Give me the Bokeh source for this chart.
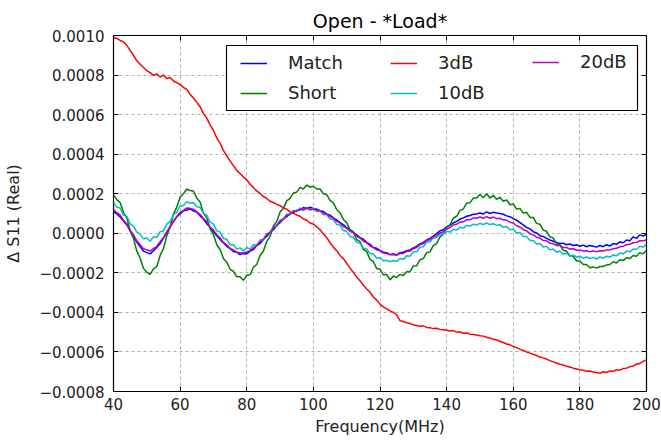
from bokeh.plotting import figure
from bokeh.models import (FixedTicker, CustomJSTickFormatter, LinearAxis, Legend,
                          LegendItem, Range1d, BoxAnnotation)
from bokeh.embed import file_html
from bokeh.resources import INLINE

# ---------------- data (values in units of 1e-6) ----------------
freq_mhz = list(range(40, 201))

match_e6 = [
    110, 98, 82, 62, 42, 12, -18, -45, -68, -90,
    -98, -104, -88, -72, -52, -24, 2, 34, 58, 84,
    98, 114, 118, 124, 112, 108, 88, 72, 48, 30,
    8, -12, -32, -48, -66, -78, -92, -96, -108, -102,
    -104, -90, -82, -62, -52, -30, -16, 4, 18, 40,
    54, 72, 84, 98, 104, 116, 118, 130, 124, 132,
    126, 122, 114, 110, 98, 92, 78, 68, 54, 44,
    28, 18, 4, -8, -22, -30, -46, -56, -72, -76,
    -86, -96, -98, -108, -104, -110, -98, -96, -88, -84,
    -74, -66, -54, -46, -34, -26, -14, -2, 12, 18,
    32, 40, 52, 60, 72, 78, 86, 90, 96, 98,
    102, 98, 108, 100, 106, 102, 100, 96, 88, 84,
    74, 66, 54, 42, 30, 22, 8, 2, -12, -16,
    -26, -34, -40, -46, -52, -50, -58, -54, -62, -58,
    -66, -60, -68, -62, -66, -70, -62, -68, -58, -64,
    -52, -56, -44, -48, -34, -38, -18, -26, -8, -14,
    -4,
]

short_e6 = [
    194, 170, 154, 106, 78, 12, -26, -90, -126, -178,
    -196, -208, -180, -168, -112, -78, -12, 32, 98, 132,
    184, 200, 224, 216, 214, 178, 158, 102, 78, 22,
    -6, -58, -82, -128, -146, -182, -192, -220, -220, -238,
    -212, -210, -172, -158, -112, -90, -42, -16, 38, 60,
    108, 126, 164, 176, 204, 208, 232, 224, 244, 234,
    238, 224, 224, 200, 196, 166, 154, 120, 104, 70,
    54, 18, 8, -32, -42, -82, -92, -132, -142, -178,
    -182, -210, -208, -236, -216, -224, -208, -214, -194, -194,
    -166, -164, -134, -128, -98, -94, -62, -52, -18, -4,
    32, 42, 76, 86, 116, 122, 152, 154, 178, 178,
    196, 180, 200, 178, 192, 172, 182, 162, 168, 144,
    148, 122, 126, 102, 106, 80, 80, 50, 46, 16,
    10, -18, -24, -54, -58, -86, -90, -114, -116, -140,
    -140, -158, -158, -174, -170, -176, -168, -168, -160, -158,
    -144, -150, -134, -138, -124, -128, -112, -116, -98, -104,
    -86,
]

db3_e6 = [
    990, 985, 975, 968, 950, 925, 900, 872, 855, 838,
    822, 812, 798, 806, 790, 800, 782, 788, 770, 762,
    752, 738, 728, 702, 684, 662, 640, 605, 582, 548,
    520, 482, 455, 418, 392, 365, 342, 318, 302, 284,
    270, 248, 232, 214, 202, 186, 176, 162, 156, 146,
    140, 128, 122, 108, 102, 92, 86, 72, 66, 52,
    46, 32, 18, -2, -22, -48, -70, -88, -112, -128,
    -152, -176, -198, -222, -240, -262, -282, -298, -322, -338,
    -358, -372, -382, -392, -400, -412, -442, -446, -452, -456,
    -462, -466, -470, -468, -476, -478, -482, -480, -486, -488,
    -490, -494, -492, -500, -498, -506, -504, -510, -512, -514,
    -518, -520, -526, -530, -536, -540, -546, -552, -560, -564,
    -572, -578, -586, -592, -600, -606, -612, -618, -626, -630,
    -636, -644, -650, -656, -662, -666, -672, -676, -682, -686,
    -690, -692, -698, -696, -702, -704, -708, -700, -704, -696,
    -698, -690, -692, -684, -682, -674, -672, -662, -658, -648,
    -640,
]

db10_e6 = [
    156, 132, 128, 92, 86, 48, 36, 6, -4, -28,
    -24, -40, -18, -22, 8, 12, 46, 60, 94, 106,
    138, 140, 160, 152, 156, 134, 130, 100, 92, 56,
    46, 12, 6, -26, -30, -58, -58, -80, -74, -90,
    -72, -80, -58, -60, -34, -32, -2, 2, 32, 36,
    66, 68, 96, 94, 116, 110, 128, 114, 132, 116,
    126, 110, 116, 94, 96, 72, 70, 44, 42, 14,
    10, -16, -20, -46, -50, -76, -78, -104, -104, -126,
    -124, -140, -136, -144, -138, -142, -128, -132, -114, -116,
    -94, -94, -70, -68, -44, -44, -22, -22, -2, -4,
    10, 6, 20, 16, 30, 26, 40, 36, 46, 42,
    50, 44, 52, 44, 48, 40, 44, 30, 34, 18,
    20, 2, 4, -16, -16, -36, -36, -54, -52, -70,
    -66, -84, -80, -96, -90, -106, -100, -116, -110, -120,
    -116, -126, -120, -128, -122, -130, -120, -126, -116, -120,
    -110, -114, -100, -104, -90, -94, -80, -82, -66, -70,
    -54,
]

db20_e6 = [
    120, 104, 92, 66, 48, 16, -8, -38, -58, -78,
    -84, -90, -78, -66, -42, -22, 8, 32, 62, 84,
    106, 116, 128, 126, 122, 108, 96, 74, 58, 32,
    16, -8, -24, -46, -58, -76, -84, -96, -98, -100,
    -94, -88, -74, -62, -44, -30, -8, 6, 28, 42,
    62, 74, 92, 98, 112, 112, 122, 120, 128, 122,
    122, 116, 112, 102, 96, 84, 76, 60, 52, 34,
    26, 10, 2, -14, -24, -40, -48, -64, -72, -84,
    -88, -100, -102, -108, -108, -110, -102, -102, -92, -90,
    -78, -72, -58, -52, -38, -32, -18, -12, 2, 8,
    22, 28, 42, 46, 56, 58, 68, 68, 78, 76,
    82, 76, 84, 76, 82, 74, 76, 68, 66, 56,
    52, 38, 32, 18, 12, -2, -8, -20, -24, -36,
    -38, -50, -52, -62, -62, -72, -72, -80, -78, -86,
    -84, -90, -88, -94, -88, -94, -88, -90, -84, -84,
    -78, -76, -68, -66, -58, -56, -48, -46, -38, -38,
    -34,
]

series_names = ["Match", "Short", "3dB", "10dB", "20dB"]
series_colors = ["#0000ff", "#008000", "#ff0000", "#00bfbf", "#bf00bf"]
series_values = [match_e6, short_e6, db3_e6, db10_e6, db20_e6]

x_ticks = [40, 60, 80, 100, 120, 140, 160, 180, 200]
y_ticks = [-0.0008, -0.0006, -0.0004, -0.0002, 0.0, 0.0002, 0.0004, 0.0006, 0.0008, 0.0010]

for s in series_values:
    assert len(s) == len(freq_mhz), len(s)

FONT = "DejaVu Sans"

p = figure(width=661, height=441, output_backend="svg", toolbar_location=None,
           x_range=Range1d(40, 200), y_range=Range1d(-0.0008, 0.0010),
           min_border_left=113, min_border_right=15, min_border_top=35,
           min_border_bottom=50, title="Open - *Load*")

p.background_fill_color = "white"
p.border_fill_color = "white"
p.outline_line_color = "black"
p.outline_line_width = 1.2

p.title.align = "center"
p.title.text_font = FONT
p.title.text_font_size = "19px"
p.title.text_font_style = "normal"
p.title.text_color = "black"
p.title.standoff = 7

y_fmt = CustomJSTickFormatter(code="""
const v = Math.abs(tick) < 1e-12 ? 0 : tick;
const s = Math.abs(v).toFixed(4);
return v < 0 ? '\u2212' + s : s;
""")

# bottom / left axes
xa = p.xaxis[0]
ya = p.yaxis[0]
xa.ticker = FixedTicker(ticks=x_ticks)
ya.ticker = FixedTicker(ticks=y_ticks)
ya.formatter = y_fmt
xa.axis_label = "Frequency(MHz)"
ya.axis_label = "\u0394 S11 (Real)"
for ax in (xa, ya):
    ax.axis_line_color = None
    ax.major_tick_in = 5
    ax.major_tick_out = 0
    ax.major_tick_line_color = "black"
    ax.minor_tick_line_color = None
    ax.major_label_text_font = FONT
    ax.major_label_text_font_size = "15px"
    ax.major_label_text_color = "#222222"
    ax.axis_label_text_font = FONT
    ax.axis_label_text_font_size = "16px"
    ax.axis_label_text_font_style = "normal"
    ax.axis_label_text_color = "#222222"
xa.major_label_standoff = 6
xa.axis_label_standoff = 4
ya.major_label_standoff = 9
ya.axis_label_standoff = 13

# top / right axes: inward ticks only, no labels
for loc, tk in (("above", x_ticks), ("right", y_ticks)):
    ax = LinearAxis(ticker=FixedTicker(ticks=tk))
    ax.axis_line_color = None
    ax.major_tick_in = 5
    ax.major_tick_out = 0
    ax.major_tick_line_color = "black"
    ax.minor_tick_line_color = None
    ax.major_label_text_color = None
    ax.major_label_text_font_size = "1px"
    ax.major_label_standoff = 0
    p.add_layout(ax, loc)

p.xgrid.grid_line_color = "#b0b0b0"
p.ygrid.grid_line_color = "#b0b0b0"
p.xgrid.grid_line_dash = "3 3"
p.ygrid.grid_line_dash = "3 3"

renderers = []
for name, col, vals in zip(series_names, series_colors, series_values):
    r = p.line(freq_mhz, [v * 1e-6 for v in vals], line_color=col, line_width=1.5)
    renderers.append(r)

# legend frame (screen units relative to the plot frame, y from bottom)
legend_box = BoxAnnotation(left=113, right=524, bottom=281, top=346,
                           left_units="screen", right_units="screen",
                           bottom_units="screen", top_units="screen",
                           fill_color="white", fill_alpha=1.0,
                           line_color="black", line_width=1.2, line_alpha=1.0)
p.add_layout(legend_box)

# three legend columns laid over the frame
columns = [([0, 1], (127, 288)), ([2, 3], (277, 288)), ([4], (419, 319))]
for idxs, loc in columns:
    its = [LegendItem(label=series_names[i], renderers=[renderers[i]]) for i in idxs]
    lg = Legend(items=its, location=loc, orientation="vertical")
    lg.border_line_color = None
    lg.background_fill_alpha = 0
    lg.label_text_font = FONT
    lg.label_text_font_size = "18px"
    lg.label_text_color = "#222222"
    lg.glyph_width = 27
    lg.glyph_height = 20
    lg.label_height = 20
    lg.label_width = 10
    lg.label_standoff = 21
    lg.spacing = 9
    lg.padding = 0
    lg.margin = 0
    p.add_layout(lg)

open("out.html", "w").write(file_html(p, INLINE))
